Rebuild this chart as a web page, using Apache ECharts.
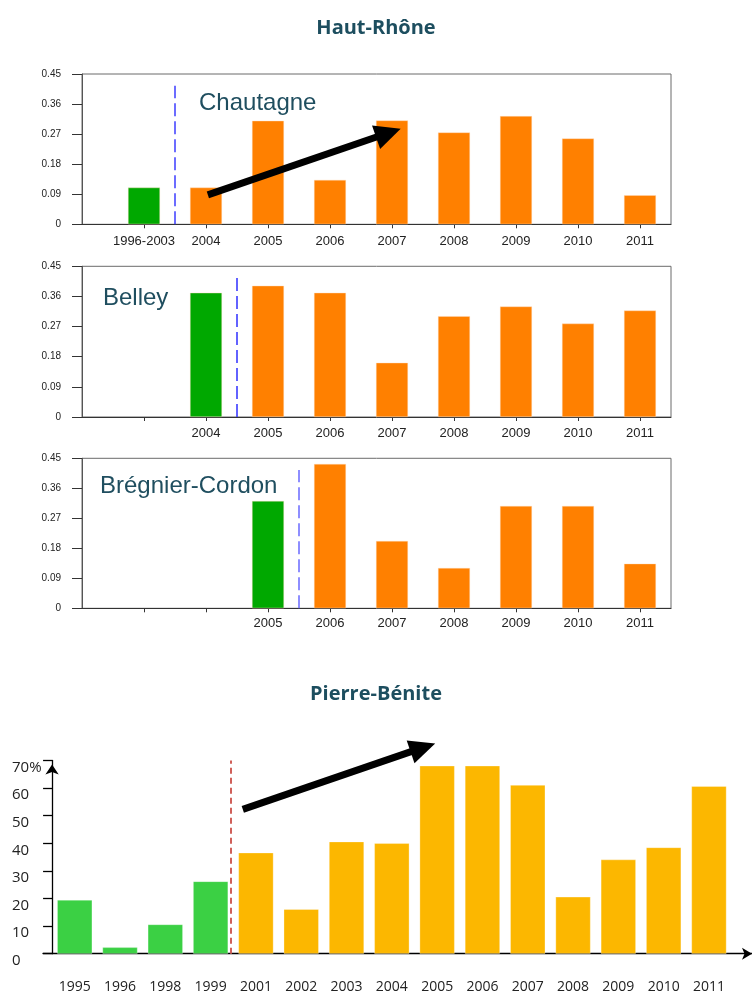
<!DOCTYPE html>
<html><head><meta charset="utf-8">
<script src="https://cdn.jsdelivr.net/npm/echarts@6/dist/echarts.min.js"></script>
<style>html,body{margin:0;padding:0;background:#fff}#c{width:752px;height:994px}</style>
</head><body><div id="c"></div>
<script>
// ---- Data ----
const chautagneLabels = ['1996-2003','2004','2005','2006','2007','2008','2009','2010','2011'];
const chautagneValues = [0.11, 0.11, 0.31, 0.133, 0.311, 0.275, 0.324, 0.257, 0.087];
const chautagneRefCount = 1;

const belleyLabels = ['', '2004','2005','2006','2007','2008','2009','2010','2011'];
const belleyValues = [null, 0.371, 0.392, 0.371, 0.162, 0.301, 0.33, 0.279, 0.318];
const belleyRefCount = 2;

const bregnierLabels = ['', '', '2005','2006','2007','2008','2009','2010','2011'];
const bregnierValues = [null, null, 0.322, 0.433, 0.202, 0.121, 0.307, 0.307, 0.134];
const bregnierRefCount = 3;

const hrYTicks = [0, 0.09, 0.18, 0.27, 0.36, 0.45];

const pbLabels = ['1995','1996','1998','1999','2001','2002','2003','2004','2005','2006','2007','2008','2009','2010','2011'];
const pbValues = [19.5, 2.3, 10.6, 26.2, 36.6, 16.1, 40.6, 40.0, 68.1, 68.1, 61.1, 20.6, 34.1, 38.5, 60.7];
const pbRefCount = 4;
const pbYTicks = [0, 10, 20, 30, 40, 50, 60, 70];

const panelNames = ['Chautagne', 'Belley', 'Brégnier-Cordon'];

// ---- Styles ----
const GREEN = '#00a800', ORANGE = '#ff8000';
const PB_GREEN = '#3bd044', PB_YELLOW = '#fcb700';
const TITLE_COLOR = '#1d4e5f';

const chart = echarts.init(document.getElementById('c'), null, {renderer: 'canvas'});

const panels = [
  {labels: chautagneLabels, values: chautagneValues, ref: chautagneRefCount, top: 74, h: 150.3, dash: '#3d3dff', lm: 11},
  {labels: belleyLabels, values: belleyValues, ref: belleyRefCount, top: 266.3, h: 150.7, dash: '#2f2fff', lm: 10},
  {labels: bregnierLabels, values: bregnierValues, ref: bregnierRefCount, top: 458.3, h: 150, dash: '#6a6aff', lm: 9}
];

const grids = [], xAxes = [], yAxes = [], series = [];
panels.forEach((p, gi) => {
  const pos = p.labels.map((_, i) => i + 1);
  grids.push({left: 82, top: p.top, width: 589, height: p.h, show: true, borderColor: '#6a6a6a', borderWidth: 1, backgroundColor: 'transparent'});
  xAxes.push({
    type: 'value', gridIndex: gi, min: 0, max: 9.5,
    axisLine: {show: true, lineStyle: {color: '#333', width: 1}},
    axisTick: {show: true, length: 4, customValues: pos, lineStyle: {color: '#333'}},
    axisLabel: {customValues: pos, margin: p.lm, fontSize: 13, color: '#222', fontFamily: 'Liberation Sans',
      formatter: v => p.labels[Math.round(v) - 1] || ''},
    splitLine: {show: false}
  });
  yAxes.push({
    type: 'value', gridIndex: gi, min: 0, max: 0.45, interval: 0.09,
    axisLine: {show: true, lineStyle: {color: '#555', width: 1}},
    axisTick: {show: true, length: 10, lineStyle: {color: '#333'}},
    axisLabel: {margin: 21, fontSize: 10, color: '#222', fontFamily: 'Liberation Sans',
      formatter: v => { const k = hrYTicks.findIndex(t => Math.abs(t - v) < 1e-6); return k < 0 ? '' : (hrYTicks[k] === 0 ? '0' : hrYTicks[k].toFixed(2)); }},
    splitLine: {show: false}
  });
  const data = [];
  p.values.forEach((v, i) => { if (v != null) data.push([i + 1, v]); });
  const dashStyle = {type: [13, 5], color: p.dash, width: 1.5};
  series.push({
    type: 'bar', xAxisIndex: gi, yAxisIndex: gi, data: data, barWidth: 32,
    itemStyle: {color: params => (params.data[0] <= p.ref ? GREEN : ORANGE), borderColor: 'rgba(255,220,190,0.8)', borderWidth: 0.5},
    markLine: {
      silent: true, symbol: 'none', label: {show: false}, animation: false,
      itemStyle: {color: p.dash},
      lineStyle: dashStyle,
      data: [[{coord: [p.ref + 0.5, 0], lineStyle: dashStyle, itemStyle: {color: p.dash}}, {coord: [p.ref + 0.5, 0.415]}]]
    }
  });
});

// Pierre-Bénite panel
const pbPos = pbLabels.map((_, i) => i + 0.5);
grids.push({left: 43, top: 760.5, width: 709, height: 193.2});
xAxes.push({
  type: 'value', gridIndex: 3, min: -0.2, max: 15.45,
  axisLine: {show: true, symbol: ['none', 'arrow'], symbolSize: [9, 10], lineStyle: {color: '#000', width: 1.3}},
  axisTick: {show: false},
  axisLabel: {customValues: pbPos, margin: 26, fontSize: 14, color: '#222', fontFamily: 'Open Sans',
    formatter: v => pbLabels[Math.round(v - 0.5)] || ''},
  splitLine: {show: false}
});
yAxes.push({
  type: 'value', gridIndex: 3, min: 0, max: 70, interval: 10,
  axisLine: {show: true, onZero: true, symbol: ['none', 'arrow'], symbolSize: [10, 10], symbolOffset: [0, -4], lineStyle: {color: '#000', width: 1.3}},
  axisTick: {show: true, length: 9, lineStyle: {color: '#000', width: 1.3}},
  axisLabel: {align: 'left', verticalAlign: 'top', lineHeight: 14, margin: 31, fontSize: 15, color: '#222', fontFamily: 'Open Sans',
    formatter: v => (v === 70 ? '70%' : String(v))},
  splitLine: {show: false}
});
const redDash = {type: [6, 4], color: '#d0605a', width: 2};
series.push({
  type: 'bar', xAxisIndex: 3, yAxisIndex: 3, barWidth: 35,
  data: pbValues.map((v, i) => [i + 0.5, v]),
  itemStyle: {color: params => (params.dataIndex < pbRefCount ? PB_GREEN : PB_YELLOW), borderColor: 'rgba(255,255,255,0.6)', borderWidth: 0.5},
  markLine: {
    silent: true, symbol: 'none', label: {show: false}, animation: false,
    itemStyle: {color: '#d0605a'},
    lineStyle: redDash,
    data: [[{coord: [3.95, 0], lineStyle: redDash}, {coord: [3.95, 70]}]]
  }
});

chart.setOption({
  animation: false,
  title: [
    {text: 'Haut-Rhône', left: 'center', top: 13, textStyle: {fontFamily: 'Open Sans', fontWeight: 'bold', fontSize: 20, color: TITLE_COLOR}},
    {text: 'Pierre-Bénite', left: 'center', top: 679, textStyle: {fontFamily: 'Open Sans', fontWeight: 'bold', fontSize: 20, color: TITLE_COLOR}}
  ],
  grid: grids, xAxis: xAxes, yAxis: yAxes, series: series
});

// Trend arrows (in data coordinates, converted through the axes)
function arrow(gi, from, to, lw, L, W) {
  const a = chart.convertToPixel({xAxisIndex: gi, yAxisIndex: gi}, from);
  const b = chart.convertToPixel({xAxisIndex: gi, yAxisIndex: gi}, to);
  const dx = b[0] - a[0], dy = b[1] - a[1];
  const len = Math.sqrt(dx * dx + dy * dy);
  const ux = dx / len, uy = dy / len, nx = -uy, ny = ux;
  const bx = b[0] - ux * L, by = b[1] - uy * L;
  return [
    {type: 'line', silent: true, z: 100, shape: {x1: a[0], y1: a[1], x2: bx + ux * 2, y2: by + uy * 2}, style: {stroke: '#000', lineWidth: lw}},
    {type: 'polygon', silent: true, z: 100, shape: {points: [[b[0], b[1]], [bx + nx * W, by + ny * W], [bx - nx * W, by - ny * W]]}, style: {fill: '#000'}}
  ];
}
const chautagneTrend = [[2.03, 0.088], [5.14, 0.286]];
const pbTrend = [[4.21, 52.3], [8.457, 76.2]];

const labelPos = [[199, 103], [103, 298], [100, 486]];
const graphics = [];
panelNames.forEach((n, i) => graphics.push({
  type: 'text', silent: true, x: labelPos[i][0], y: labelPos[i][1],
  style: {text: n, font: '24px "Liberation Sans"', fill: '#1f4e5f', verticalAlign: 'middle', align: 'left'}
}));
graphics.push(...arrow(0, chautagneTrend[0], chautagneTrend[1], 7, 26, 12.5));
graphics.push(...arrow(3, pbTrend[0], pbTrend[1], 7, 26, 12));
chart.setOption({graphic: graphics});
</script>
</body></html>
